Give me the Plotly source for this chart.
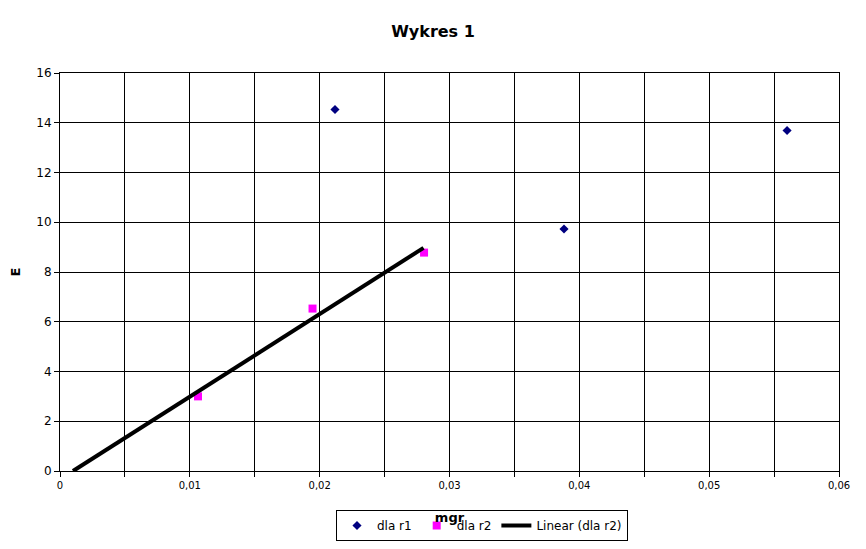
import numpy as np
import plotly.graph_objects as go

r1_x = [0.02118, 0.03882, 0.0560]
r1_y = [14.53, 9.73, 13.69]
r2_x = [0.01063, 0.01945, 0.02804]
r2_y = [3.0, 6.53, 8.78]
trend_x = [0.001, 0.028]

x_tickvals = [0, 0.005, 0.01, 0.015, 0.02, 0.025, 0.03, 0.035, 0.04, 0.045, 0.05, 0.055, 0.06]
x_ticktext = ["0", "", "0,01", "", "0,02", "", "0,03", "", "0,04", "", "0,05", "", "0,06"]
y_tickvals = [0, 2, 4, 6, 8, 10, 12, 14, 16]

slope, intercept = np.polyfit(r2_x, r2_y, 1)
trend_y = [slope * x + intercept for x in trend_x]

font = "DejaVu Sans"
fig = go.Figure()
fig.add_trace(go.Scatter(x=r1_x, y=r1_y, mode="markers", name="dla r1",
                         marker=dict(symbol="diamond", color="#000080", size=7)))
fig.add_trace(go.Scatter(x=r2_x, y=r2_y, mode="markers", name="dla r2",
                         marker=dict(symbol="square", color="#ff00ff", size=8)))
fig.add_trace(go.Scatter(x=trend_x, y=trend_y, mode="lines", name="Linear (dla r2)",
                         line=dict(color="black", width=4)))

fig.update_layout(
    width=850, height=533,
    paper_bgcolor="white", plot_bgcolor="white",
    margin=dict(l=52, r=19, t=65, b=70, autoexpand=False),
    font=dict(family=font, color="black", size=11),
    title=dict(text="<b>Wykres 1</b>", x=0.5, xref="container", xanchor="center",
               y=1 - 23 / 533, yref="container", yanchor="middle",
               font=dict(size=16, family=font)),
    showlegend=True,
    legend=dict(orientation="h", x=(328 - 52) / 779, xanchor="left", y=-0.098, yanchor="top",
                bordercolor="black", borderwidth=1, font=dict(size=12, family=font),
                bgcolor="white", itemwidth=30),
)
fig.update_xaxes(range=[0, 0.06], tickvals=x_tickvals, ticktext=x_ticktext,
                 showgrid=True, gridcolor="black", gridwidth=1, automargin=False,
                 showline=True, linecolor="black", mirror=True, linewidth=1,
                 ticks="outside", ticklen=5, tickcolor="black", zeroline=False,
                 tickfont=dict(size=10),
                 title=dict(text="<b>mgr</b>", standoff=22, font=dict(size=13)))
fig.update_yaxes(range=[0, 16], tickvals=y_tickvals, automargin=False,
                 showgrid=True, gridcolor="black", gridwidth=1,
                 showline=True, linecolor="black", mirror=True, linewidth=1,
                 ticks="outside", ticklen=5, tickcolor="black", zeroline=False,
                 tickfont=dict(size=12),
                 title=dict(text="<b>E</b>", standoff=26, font=dict(size=13)))

fig.write_html("out.html")
